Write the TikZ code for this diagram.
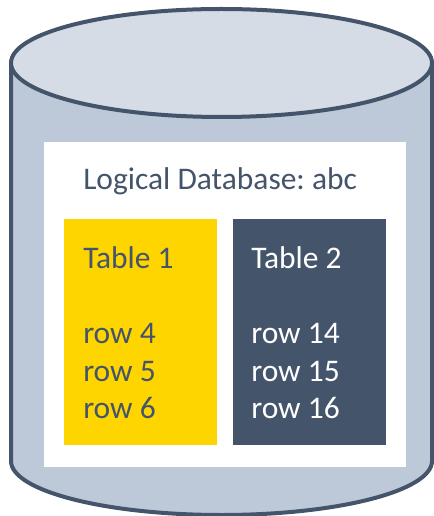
\documentclass[tikz,border=0pt]{standalone}
\usepackage{fontspec}
\setmainfont{Carlito}
\usepackage{xcolor}
\usepackage{tikz}
\usetikzlibrary{positioning}
\definecolor{slate}{HTML}{44546A}
\definecolor{lidgray}{HTML}{D6DCE5}
\definecolor{bodygray}{HTML}{BDC9D8}
\definecolor{gold}{HTML}{FFD500}
\tikzset{
	cyl/.style={draw=slate, line width=3pt},
	tbl/.style={inner sep=0pt, outer sep=0pt}
}
\newcommand{\bigtxt}{\fontsize{23.6}{28}\selectfont}
\frenchspacing

\begin{document}
\begin{tikzpicture}[
	x=0.75pt, y=-0.75pt,
	t/.style={anchor=base west, inner sep=0pt, font=\bigtxt},
	node distance=0pt]
	\useasboundingbox (0,0) rectangle (434,516);
	% cylinder body and lid
	\filldraw[cyl, fill=bodygray] (11,63) -- (11,461) arc[start angle=180, end angle=0, x radius=210.5, y radius=54] -- (432,63) -- cycle;
	\filldraw[cyl, fill=lidgray] (221.5,63) ellipse [x radius=210.5, y radius=54];
	% logical database
	\fill[white] (44,142) rectangle (406,467);
	\node[t, text=slate] (dbname) at (83,190) {Logical Database:\ abc};
	\fill[gold] (64,219) rectangle (217,445);
	\fill[slate] (233,219) rectangle (386,445);
	\node[t, text=slate] (tabA) at (83,268) {Table 1};
	\node[t, text=slate] (rowA) at (83,343) {row 4};
	\node[t, text=slate] (rowB) at (83,381) {row 5};
	\node[t, text=slate] (rowC) at (83,418) {row 6};
	\node[t, text=white] (tabB) at (251,268) {Table 2};
	\node[t, text=white] (rowD) at (251,343) {row 14};
	\node[t, text=white] (rowE) at (251,381) {row 15};
	\node[t, text=white] (rowF) at (251,418) {row 16};
\end{tikzpicture}
\end{document}
